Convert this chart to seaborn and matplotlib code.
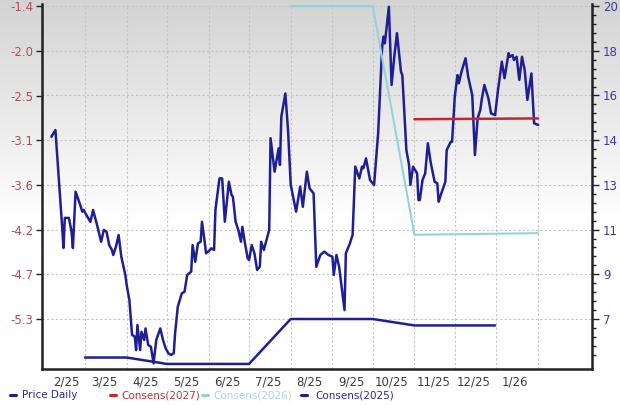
import numpy as np
import pandas as pd
import matplotlib
matplotlib.use("Agg")
import matplotlib.pyplot as plt
from matplotlib.lines import Line2D
from matplotlib.ticker import FixedLocator
import seaborn as sns

# days counted from 2025-01-01
price_day = [34, 37, 42, 43, 44, 47, 49, 50, 52, 55, 57, 58, 60, 63, 65, 68, 71, 73, 75, 77,
             79, 80, 82, 84, 86, 89, 90, 92, 94, 96, 97, 98, 100, 101, 103, 104, 106, 108, 110, 112,
             115, 117, 119, 121, 123, 125, 126, 128, 131, 133, 135, 138, 139, 141, 143, 145, 146, 148, 149, 152,
             153, 155, 156, 159, 161, 163, 166, 168, 169, 171, 173, 175, 176, 178, 180, 181, 183, 185, 187, 189,
             190, 192, 195, 196, 197, 200, 203, 204, 205, 208, 210, 212, 214, 216, 219, 221, 224, 226, 229, 231,
             234, 237, 240, 243, 244, 246, 248, 252, 253, 256, 258, 260, 263, 265, 266, 268, 271, 274, 277, 280,
             281, 282, 285, 287, 289, 291, 294, 295, 298, 300, 301, 303, 306, 307, 308, 310, 312, 314, 316, 319,
             321, 322, 324, 327, 328, 331, 332, 334, 336, 337, 339, 342, 344, 347, 349, 351, 353, 354, 356, 359,
             361, 364, 366, 369, 371, 374, 375, 377, 378, 380, 382, 384, 386, 388, 391, 393, 396]
price = [14.57, 14.85, 10.83, 9.95, 11.20, 11.20, 10.63, 9.95, 12.29, 11.81, 11.46, 11.53, 11.32, 11.04, 11.53, 10.90, 10.21, 10.70, 10.63, 10.07,
         9.87, 9.66, 10.00, 10.49, 9.59, 8.83, 8.41, 7.79, 6.34, 6.27, 5.71, 6.75, 5.71, 6.47, 6.13, 6.61, 5.92, 5.85, 5.16, 6.13,
         6.61, 6.13, 5.78, 5.58, 5.51, 5.58, 6.41, 7.51, 8.07, 8.13, 8.83, 8.97, 10.07, 9.38, 10.14, 10.21, 11.04, 10.21, 9.73, 9.87,
         9.94, 9.87, 11.53, 12.84, 12.84, 11.04, 12.70, 12.15, 12.08, 11.04, 10.70, 10.21, 10.83, 10.14, 9.52, 9.45, 10.07, 9.73, 9.04, 9.17,
         10.21, 9.87, 10.49, 10.70, 14.51, 13.12, 14.09, 13.40, 15.40, 16.37, 14.85, 12.57, 12.01, 11.46, 12.50, 11.66, 13.12, 12.43, 12.22, 9.17,
         9.66, 9.80, 9.66, 9.59, 8.83, 9.66, 9.17, 7.37, 9.73, 10.14, 10.49, 13.33, 12.84, 13.33, 13.26, 13.67, 12.77, 12.57, 14.71, 18.31,
         18.73, 18.45, 19.97, 16.72, 17.89, 18.87, 17.27, 17.13, 14.02, 13.40, 12.57, 13.33, 13.05, 11.94, 11.94, 12.77, 13.05, 14.30, 13.53, 12.70,
         12.64, 11.87, 12.22, 12.70, 14.02, 14.36, 14.36, 16.23, 17.13, 16.79, 17.27, 17.83, 17.06, 16.30, 13.81, 15.34, 15.68, 16.10, 16.72, 16.17,
         15.54, 15.47, 16.44, 17.69, 17.00, 18.04, 17.89, 17.96, 17.76, 17.89, 16.93, 17.89, 17.34, 16.10, 17.20, 15.13, 15.06]

cons27_day = [304, 396]
cons27 = [-2.81, -2.80]
cons26_day = [212, 273, 304, 396]
cons26 = [-1.40, -1.40, -4.25, -4.23]
cons25_day = [59, 90, 120, 181, 212, 273, 304, 364]
cons25 = [-5.78, -5.78, -5.86, -5.86, -5.30, -5.30, -5.38, -5.38]

left_labels = ["-1.4", "-2.0", "-2.5", "-3.1", "-3.6", "-4.2", "-4.7", "-5.3"]
right_labels = ["20", "18", "16", "14", "13", "11", "9", "7"]
month_labels = ["2/25", "3/25", "4/25", "5/25", "6/25", "7/25", "8/25", "9/25",
                "10/25", "11/25", "12/25", "1/26"]

navy = "#1f1f91"
red = "#c0282d"
light = "#93d3df"

base = pd.Timestamp("2025-01-01")


def to_dates(days):
    return base + pd.to_timedelta(days, unit="D")


sns.set_style("white")
plt.rcParams["font.family"] = ["DejaVu Sans"]

fig = plt.figure(figsize=(6.2, 4.05), dpi=100)

# soft grey-to-white background
bg = fig.add_axes([0, 0, 1, 1], zorder=-10)
frac = np.clip(np.linspace(0, 1, 256) / 0.55, 0, 1)
shade = 0.83 + 0.17 * frac
bg.imshow(np.dstack([shade, shade, shade]).reshape(256, 1, 3),
          extent=[0, 1, 0, 1], aspect="auto")
bg.axis("off")

ax = fig.add_axes([0.0677, 0.0889, 0.887, 0.901])
ax.patch.set_alpha(0)
ax2 = ax.twinx()

sns.lineplot(x=to_dates(price_day), y=price, ax=ax, color=navy, lw=1.8)
sns.lineplot(x=to_dates(cons25_day), y=cons25, ax=ax2, color=navy, lw=1.8)
sns.lineplot(x=to_dates(cons26_day), y=cons26, ax=ax2, color=light, lw=1.5)
sns.lineplot(x=to_dates(cons27_day), y=cons27, ax=ax2, color=red, lw=1.8)

for a in (ax, ax2):
    a.set_xlabel("")
    a.set_ylabel("")

ax.set_xlim(to_dates([27])[0], to_dates([436])[0])
ax.set_ylim(4.925, 20.08)
ax2.set_ylim(-5.923, -1.375)

# right axis (price)
ax.yaxis.tick_right()
right_ticks = [20 - k * 13 / 7 for k in range(8)]
ax.yaxis.set_major_locator(FixedLocator(right_ticks))
ax.set_yticklabels(right_labels)
minor = [20 - k * 13 / 35 for k in range(41) if k % 5 and 20 - k * 13 / 35 > 4.93]
ax.yaxis.set_minor_locator(FixedLocator(minor))
ax.tick_params(axis="y", which="major", right=True, left=False, length=5, width=1,
               color="#222222", labelcolor="#3d3d99", labelsize=8.5, pad=3)
ax.tick_params(axis="y", which="minor", right=True, left=False, length=3, width=1, color="#222222")

# left axis (consensus)
ax2.yaxis.tick_left()
left_ticks = [-1.4 - k * 3.9 / 7 for k in range(8)]
ax2.yaxis.set_major_locator(FixedLocator(left_ticks))
ax2.set_yticklabels(left_labels)
ax2.tick_params(axis="y", left=True, right=False, length=4, width=1,
                color="#222222", labelcolor="#b24a5c", labelsize=8.5, pad=2)

# x axis: grid at month starts, labels mid-month
month_starts = pd.date_range("2025-03-01", "2026-02-01", freq="MS")
mid_months = pd.date_range("2025-02-01", "2026-01-01", freq="MS") + pd.Timedelta(days=14)
ax.xaxis.set_major_locator(FixedLocator(matplotlib.dates.date2num(mid_months)))
ax.set_xticklabels(month_labels)
ax.xaxis.set_minor_locator(FixedLocator(matplotlib.dates.date2num(month_starts)))
ax.tick_params(axis="x", which="both", length=0, labelsize=8.5, labelcolor="#3a3a3a", pad=5)

ax.set_axisbelow(True)
ax.grid(axis="x", which="minor", color="#c4c4c4", lw=0.8, ls=(0, (2, 2)))
ax.grid(axis="y", which="major", color="#c4c4c4", lw=0.8, ls=(0, (2, 2)))
ax.grid(axis="x", which="major", visible=False)

for name, sp in ax.spines.items():
    sp.set_visible(name != "top")
    sp.set_color("#222222")
    sp.set_linewidth(1.8)
for sp in ax2.spines.values():
    sp.set_visible(False)

# legend row
legend_items = [(10, 22, "Price Daily", navy, "#2a2a8a"),
                (110, 121, "Consens(2027)", red, "#b8333a"),
                (202, 213, "Consens(2026)", light, "#a6d9e4"),
                (301, 315, "Consens(2025)", navy, "#2a2a8a")]
ly = 1 - 395 / 405
for mx, tx, label, lc, tc in legend_items:
    fig.add_artist(Line2D([mx / 620, (mx + 6) / 620], [ly, ly], color=lc, lw=2.2,
                          transform=fig.transFigure))
    fig.text(tx / 620, ly, label, color=tc, fontsize=7.5, va="center", ha="left")

fig.savefig("out.png", dpi=100)
